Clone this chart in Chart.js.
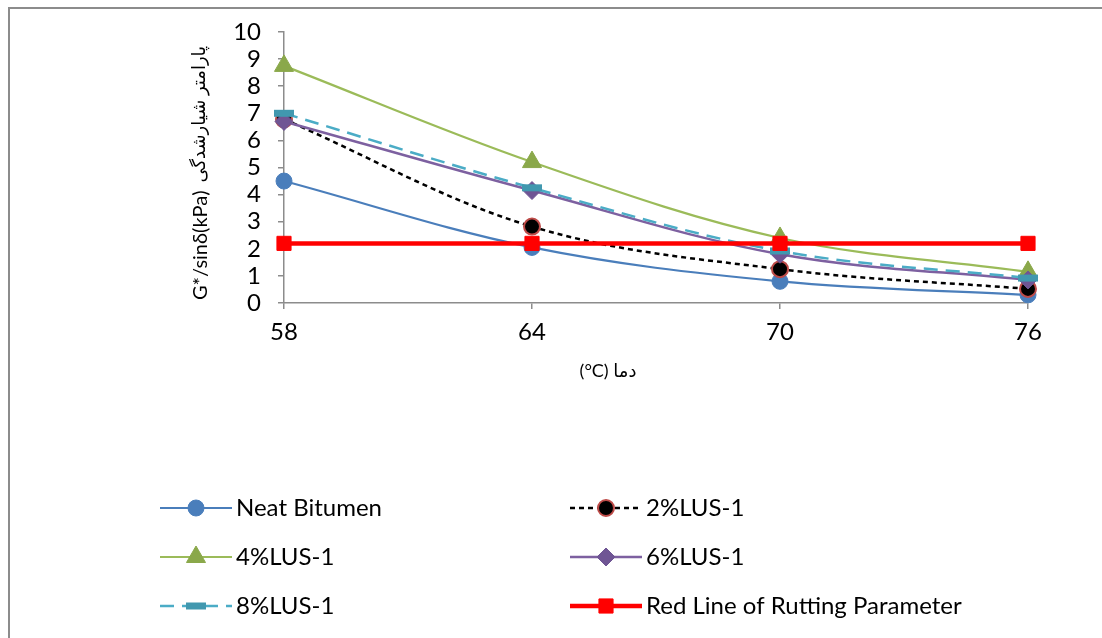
<!DOCTYPE html>
<html>
<head>
<meta charset="utf-8">
<script src="https://cdn.jsdelivr.net/npm/chart.js@4/dist/chart.umd.min.js"></script>
<style>
  html, body { margin:0; padding:0; background:#fff; overflow:hidden; }
  #frame { position:absolute; left:8px; top:7px; width:1200px; height:700px;
           border-top:2px solid #8c8c8c; border-left:2px solid #8c8c8c; }
  #wrap { position:absolute; left:0; top:0; width:1102px; height:638px; }
</style>
</head>
<body>
<div id="frame"></div>
<div id="wrap"><canvas id="rutChart" width="1102" height="638"></canvas></div>
<script>
// temperatures (°C) and G*/sinδ (kPa) per binder
const temps = [58, 64, 70, 76];
const neatBitumen = [4.5, 2.05, 0.8, 0.3];
const lus2 = [6.78, 2.82, 1.25, 0.52];
const lus4 = [8.75, 5.2, 2.4, 1.15];
const lus6 = [6.7, 4.15, 1.8, 0.85];
const lus8 = [7.0, 4.25, 1.92, 0.92];
const rutLimit = [2.2, 2.2, 2.2, 2.2];
const yTicks = [0, 1, 2, 3, 4, 5, 6, 7, 8, 9, 10];

const FONT = 'Lato, "DejaVu Sans", sans-serif';
const pts = arr => temps.map((t, i) => ({ x: t, y: arr[i] }));

const datasets = [
  { label:'Neat Bitumen', data:pts(neatBitumen), borderColor:'#4a7ebb', borderWidth:2.2, tension:0.35,
    pointStyle:'circle', pointRadius:8, pointBackgroundColor:'#4a7ebb', pointBorderColor:'#4a7ebb', pointBorderWidth:1, order:5 },
  { label:'2%LUS-1', data:pts(lus2), borderColor:'#000', borderWidth:2.5, borderDash:[5,4], tension:0.35,
    pointStyle:'circle', pointRadius:8, pointBackgroundColor:'#000', pointBorderColor:'#be4b48', pointBorderWidth:2, order:4 },
  { label:'4%LUS-1', data:pts(lus4), borderColor:'#9bbb59', borderWidth:2.2, tension:0.35,
    pointStyle:'triangle', pointRadius:11, pointBackgroundColor:'#8aa84a', pointBorderColor:'#8aa84a', pointBorderWidth:1, order:3 },
  { label:'6%LUS-1', data:pts(lus6), borderColor:'#7d60a0', borderWidth:2.5, tension:0.35,
    pointStyle:'rectRot', pointRadius:9, pointBackgroundColor:'#6f5594', pointBorderColor:'#6f5594', pointBorderWidth:1, order:2 },
  { label:'8%LUS-1', data:pts(lus8), borderColor:'#4bacc6', borderWidth:2.5, borderDash:[14,8], tension:0.35,
    pointStyle:'line', pointRadius:10, pointBackgroundColor:'#4198af', pointBorderColor:'#4198af', pointBorderWidth:7, order:1 },
  { label:'Red Line of Rutting Parameter', data:pts(rutLimit), borderColor:'#ff0000', borderWidth:4.5, tension:0,
    pointStyle:'rect', pointRadius:10, pointBackgroundColor:'#ff0000', pointBorderColor:'#ff0000', pointBorderWidth:1, order:0 }
];

// legend laid out as Excel does: two columns, three rows
const legendSlots = [[160,508],[570,508],[160,557],[570,557],[160,606],[570,606]];

const extras = {
  id:'extras',
  afterDraw(chart) {
    const ctx = chart.ctx, area = chart.chartArea;
    ctx.save();
    // y axis title, rotated; Persian part in a smaller size
    ctx.translate(area.left - 83, area.bottom - 3);
    ctx.rotate(-Math.PI / 2);
    ctx.fillStyle = '#000';
    ctx.textBaseline = 'middle';
    ctx.textAlign = 'left';
    ctx.font = '20px ' + FONT;
    const t1 = 'G*/sinδ(kPa)';
    ctx.fillText(t1, 0, 0);
    const w1 = ctx.measureText(t1).width;
    ctx.font = '18px ' + FONT;
    ctx.fillText('پارامتر شیارشدگی', w1 + 8, -2);
    ctx.restore();

    // x axis title
    ctx.save();
    ctx.fillStyle = '#000';
    ctx.textAlign = 'center';
    ctx.textBaseline = 'middle';
    ctx.font = '18px ' + FONT;
    ctx.fillText('(°C) دما', 608, 371);
    ctx.restore();

    // legend
    datasets.forEach((ds, i) => {
      const [x0, y] = legendSlots[i];
      ctx.save();
      ctx.strokeStyle = ds.borderColor;
      ctx.lineWidth = ds.borderWidth;
      ctx.setLineDash(ds.borderDash || []);
      ctx.beginPath();
      ctx.moveTo(x0, y);
      ctx.lineTo(x0 + 72, y);
      ctx.stroke();
      ctx.setLineDash([]);
      ctx.fillStyle = ds.pointBackgroundColor;
      ctx.strokeStyle = ds.pointBorderColor;
      ctx.lineWidth = ds.pointBorderWidth;
      Chart.helpers.drawPoint(ctx, { pointStyle: ds.pointStyle, radius: ds.pointRadius, rotation: 0, borderWidth: ds.pointBorderWidth }, x0 + 36, y);
      ctx.fillStyle = '#000';
      ctx.font = '24px ' + FONT;
      ctx.textAlign = 'left';
      ctx.textBaseline = 'middle';
      ctx.fillText(ds.label, x0 + 76, y);
      ctx.restore();
    });
  }
};

new Chart(document.getElementById('rutChart'), {
  type: 'line',
  data: { datasets },
  options: {
    responsive: false,
    animation: false,
    layout: { padding: { left: 0, top: 32, right: 74, bottom: 0 } },
    plugins: { legend: { display: false }, tooltip: { enabled: false } },
    datasets: { line: { clip: false } },
    scales: {
      x: {
        type: 'linear', min: 58, max: 76,
        afterFit: s => { s.height = 335; },
        afterBuildTicks: s => { s.ticks = temps.map(v => ({ value: v })); },
        ticks: { color: '#000', font: { family: FONT, size: 24 }, padding: 9, autoSkip: false, maxRotation: 0 },
        grid: { display: true, drawOnChartArea: false, drawTicks: true, tickLength: 6, color: '#8c8c8c', lineWidth: 1.5 },
        border: { display: true, color: '#8c8c8c', width: 1.5 }
      },
      y: {
        type: 'linear', min: 0, max: 10,
        afterFit: s => { s.width = 284; },
        afterBuildTicks: s => { s.ticks = yTicks.map(v => ({ value: v })); },
        ticks: { color: '#000', font: { family: FONT, size: 24 }, padding: 17, autoSkip: false },
        grid: { display: true, drawOnChartArea: false, drawTicks: true, tickLength: 6, color: '#8c8c8c', lineWidth: 1.5 },
        border: { display: true, color: '#8c8c8c', width: 1.5 }
      }
    }
  },
  plugins: [extras]
});
</script>
</body>
</html>
